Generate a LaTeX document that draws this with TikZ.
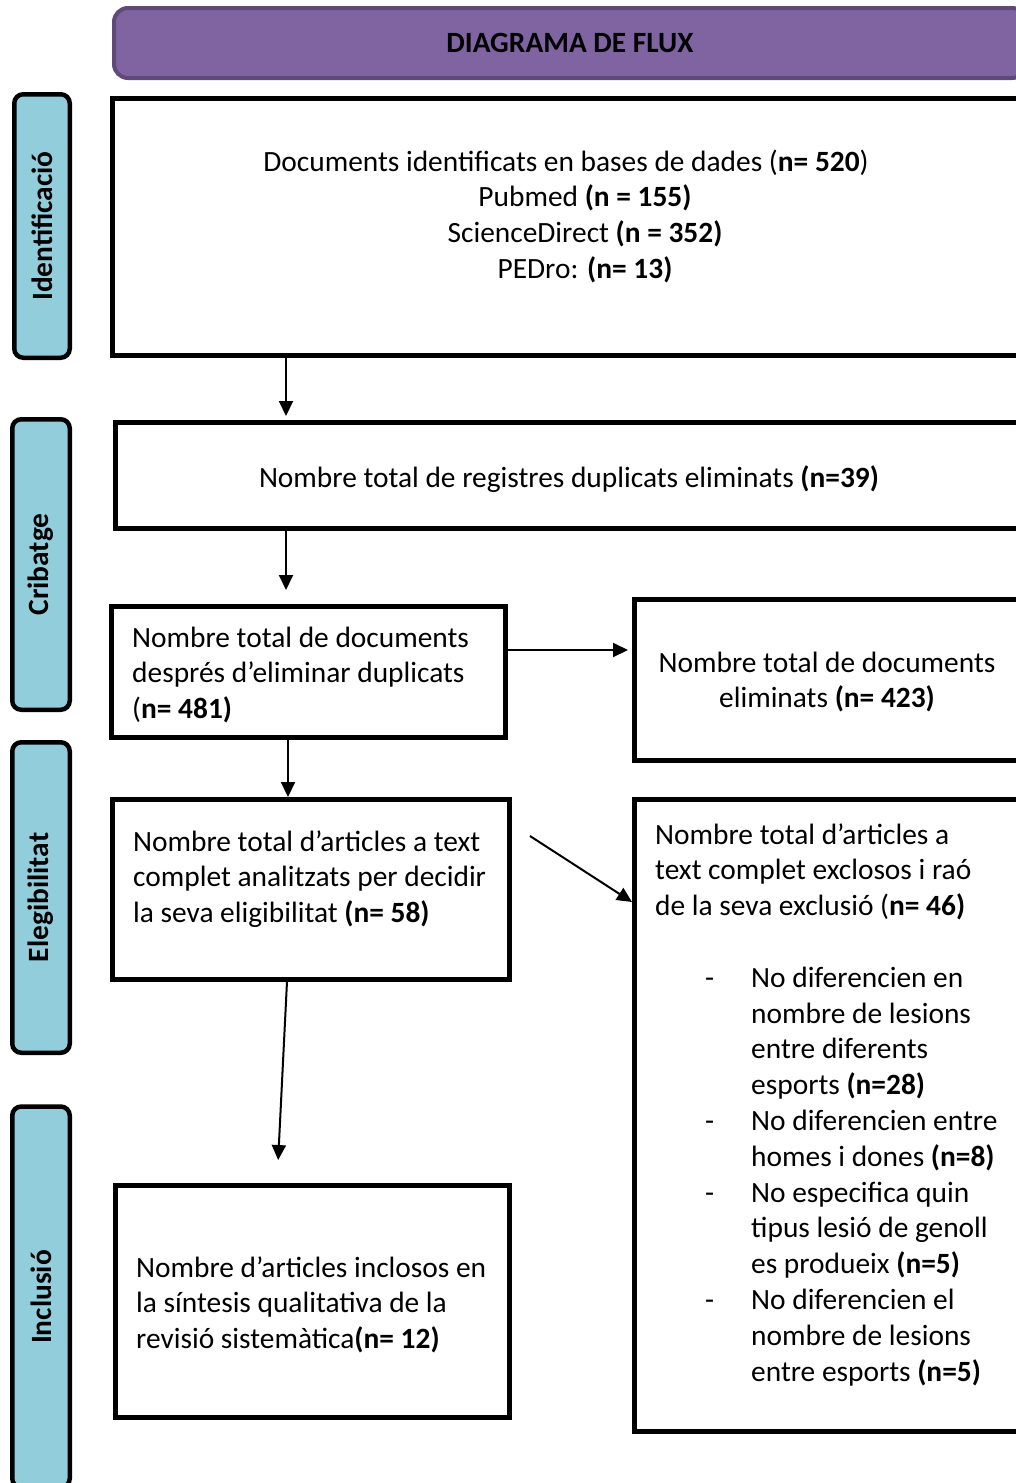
\documentclass[tikz,border=0pt]{standalone}
\usepackage{fontspec}
\setmainfont{Carlito}
\usetikzlibrary{arrows.meta}

\definecolor{headfill}{HTML}{8064A2}
\definecolor{headline}{HTML}{5F497A}
\definecolor{sidefill}{HTML}{92CDDC}

\newcommand{\flowfont}{\fontsize{29.4}{35.8}\selectfont}
\newcommand{\itm}{\hspace*{50pt}\makebox[46pt][l]{-}}
\newcommand{\ind}{\hspace*{96pt}}

\tikzset{
	box/.style={draw, line width=4.5pt, rectangle, anchor=north west, inner sep=0pt},
	side/.style={draw, line width=4.5pt, fill=sidefill, rounded corners=9pt, rotate=90, font=\flowfont\bfseries},
	head/.style={draw=headline, fill=headfill, line width=4pt, rounded corners=14pt, minimum width=912pt, minimum height=70pt, font=\flowfont\bfseries},
	txt/.style={inner sep=0pt, align=left, anchor=base west},
	arr/.style={line width=2pt, -{Triangle[length=15pt,width=14pt]}}
}

\begin{document}
\begin{tikzpicture}[x=1pt, y=-1pt, font=\flowfont]
	\useasboundingbox (0,0) rectangle (1016,1483);
	\clip (0,0) rectangle (1016,1483);
	
	%header
	\node[head] (head) at (570,43) {DIAGRAMA DE FLUX};
	
	%phases
	\node[side, minimum width=263.5pt, minimum height=55.5pt] (ident) at (42,226)   {Identificació};
	\node[side, minimum width=290.5pt, minimum height=57.5pt] (crib)  at (41,564.5) {Cribatge};
	\node[side, minimum width=310.5pt, minimum height=57.5pt] (elegi) at (41,897.5) {Elegibilitat};
	\node[side, minimum width=381pt,   minimum height=57.5pt] (inclu) at (41,1297)  {Inclusió};
	
	%boxes
	\node[box, minimum width=918pt, minimum height=257pt] (box1) at (110,96)  {};
	\node[box, minimum width=915pt, minimum height=106pt] (box2) at (113,420) {};
	\node[box, minimum width=394pt, minimum height=131pt] (box3) at (109,604) {};
	\node[box, minimum width=396pt, minimum height=161pt] (box4) at (632,597) {};
	\node[box, minimum width=397pt, minimum height=180pt] (box5) at (110,797) {};
	\node[box, minimum width=396pt, minimum height=632pt] (box6) at (632,797) {};
	\node[box, minimum width=394pt, minimum height=232pt] (box7) at (113,1183) {};
	
	%labels (anchored on the last line)
	\node[txt, anchor=base, align=center] (t1) at (585,278.4) {Documents identificats en bases de dades (\textbf{n= 520})\hspace*{38pt}\\ Pubmed \textbf{(n = 155)}\\ ScienceDirect \textbf{(n = 352)}\\ PEDro: \textbf{(n= 13)}};
	\node[txt, anchor=base] (t2) at (569,487) {Nombre total de registres duplicats eliminats \textbf{(n=39)}};
	\node[txt] (t3) at (132,718.6) {Nombre total de documents\\ després d’eliminar duplicats\\ (\textbf{n= 481)}};
	\node[txt, anchor=base, align=center] (t4) at (827,707.8) {Nombre total de documents\\ eliminats \textbf{(n= 423)}};
	\node[txt] (t5) at (133,922.6) {Nombre total d’articles a text\\ complet analitzats per decidir\\ la seva eligibilitat \textbf{(n= 58)}};
	\node[txt] (t6) at (655,1381) {Nombre total d’articles a\\ text complet exclosos i raó\\ de la seva exclusió (\textbf{n= 46)}\\[35.8pt]
		\itm No diferencien en\\ \ind nombre de lesions\\ \ind entre diferents\\ \ind esports \textbf{(n=28)}\\
		\itm No diferencien entre\\ \ind homes i dones \textbf{(n=8)}\\
		\itm No especifica quin\\ \ind tipus lesió de genoll\\ \ind es produeix \textbf{(n=5)}\\
		\itm No diferencien el\\ \ind nombre de lesions\\ \ind entre esports \textbf{(n=5)}};
	\node[txt] (t7) at (136,1348.6) {Nombre d’articles inclosos en\\ la síntesis qualitativa de la\\ revisió sistemàtica\textbf{(n= 12)}};
	
	%arrows
	\coordinate (colA) at (286,0);
	\coordinate (colB) at (288,0);
	\coordinate (colC) at (287,0);
	\coordinate (colD) at (277,0);
	\coordinate (rowA) at (0,650);
	\coordinate (rowB) at (0,902);
	\coordinate (d0)   at (530,836);
	\draw[arr, shorten >=4pt]  (box1.south -| colA) -- (box2.north -| colA);
	\draw[arr, shorten >=14pt] (box2.south -| colA) -- (box3.north -| colA);
	\draw[arr, shorten >=4pt]  (box3.east |- rowA)  -- (box4.west |- rowA);
	\draw[arr]                 (box3.south -| colB) -- (box5.north -| colB);
	\draw[arr]                 (d0) -- (box6.west |- rowB);
	\draw[arr, shorten >=23pt] (box5.south -| colC) -- (box7.north -| colD);
\end{tikzpicture}
\end{document}
